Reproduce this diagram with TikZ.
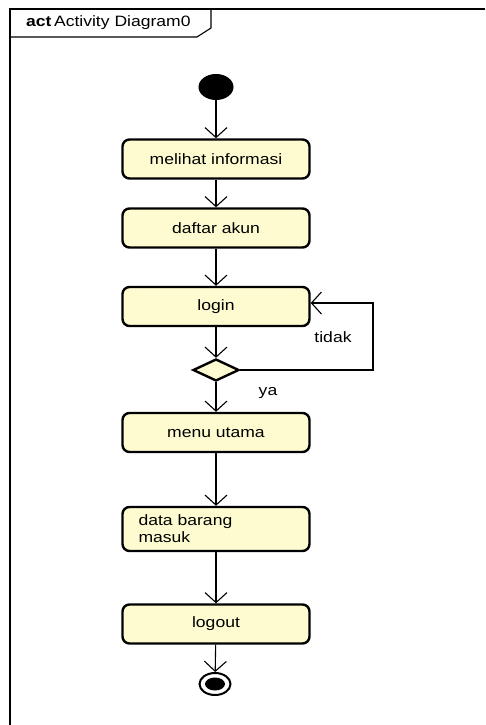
\documentclass[tikz,border=0pt]{standalone}
\usepackage{fontspec}
\setmainfont{Liberation Sans}[FakeStretch=1.17]
\usetikzlibrary{shapes.geometric,arrows.meta}

\definecolor{actfill}{RGB}{253,251,207}
\tikzstyle{activity} = [rectangle, rounded corners=7pt, minimum width=187pt, minimum height=39pt, text centered, draw=black, line width=2.4pt, fill=actfill, font=\fontsize{15}{17}\selectfont]
\tikzstyle{decision} = [diamond, minimum width=46pt, minimum height=22pt, aspect=2, inner sep=0pt, draw=black, line width=2.4pt, fill=actfill]
\tikzstyle{initial} = [ellipse, fill=black, minimum width=35pt, minimum height=26pt, inner sep=0pt]
\tikzstyle{final} = [ellipse, draw=black, line width=2pt, fill=white, minimum width=31pt, minimum height=22pt, inner sep=0pt, path picture={\fill[black] (path picture bounding box.center) ellipse (10pt and 6.5pt);}]
\tikzstyle{arrow} = [line width=1.1pt, -{Straight Barb[length=10pt,width=22pt]}]
\tikzstyle{guard} = [font=\fontsize{15}{17}\selectfont]

\begin{document}
\begin{tikzpicture}[node distance = 69pt, auto]
	\useasboundingbox (0,0) rectangle (485pt,-725pt);
	% Frame
	\draw [line width=1.1pt] (10pt,-725pt) |- (485pt,-9pt);
	\draw [line width=1.1pt] (10pt,-37pt) -- (197pt,-37pt) -- (211pt,-28pt) -- (211pt,-9pt);
	\node [anchor=west, font=\fontsize{15}{17}\selectfont, inner sep=0pt] (FrameTitle) at (26pt,-23pt) {\textbf{act}\,Activity Diagram0};
	% Place nodes
	\node [initial] (Start) at (216pt,-87pt) {};
	\node [activity, below of=Start, yshift=-3pt] (MelihatInformasi) {melihat informasi};
	\node [activity, below of=MelihatInformasi] (DaftarAkun) {daftar akun};
	\node [activity, below of=DaftarAkun, yshift=-9.5pt] (Login) {login};
	\node [decision, below of=Login, yshift=5.5pt] (CekLogin) {};
	\node [activity, below of=CekLogin, yshift=6.5pt] (MenuUtama) {menu utama};
	\node [activity, below of=MenuUtama, yshift=-27.5pt, text width=155pt, inner xsep=16pt, align=left, minimum height=44pt] (DataBarangMasuk) {data barang\\masuk};
	\node [activity, below of=DataBarangMasuk, yshift=-26pt] (Logout) {logout};
	\node [final, below of=Logout, yshift=9pt, xshift=-1pt] (End) {};
	\coordinate [right of=CekLogin, xshift=88pt] (LoopTurn);
	\node [guard] (Tidak) at (333pt,-337pt) {tidak};
	\node [guard] (Ya) at (268pt,-393pt) {ya};
	% Draw edges
	\draw [arrow] (Start) -- (MelihatInformasi);
	\draw [arrow] (MelihatInformasi) -- (DaftarAkun);
	\draw [arrow] (DaftarAkun) -- (Login);
	\draw [arrow] (Login) -- (CekLogin);
	\draw [arrow] (CekLogin) -- (MenuUtama);
	\draw [arrow] (CekLogin.east) -- (LoopTurn) |- ([yshift=3.5pt]Login.east);
	\draw [arrow] (MenuUtama) -- (DataBarangMasuk);
	\draw [arrow] (DataBarangMasuk) -- (Logout);
	\draw [arrow] (Logout) -- (End);
\end{tikzpicture}
\end{document}
